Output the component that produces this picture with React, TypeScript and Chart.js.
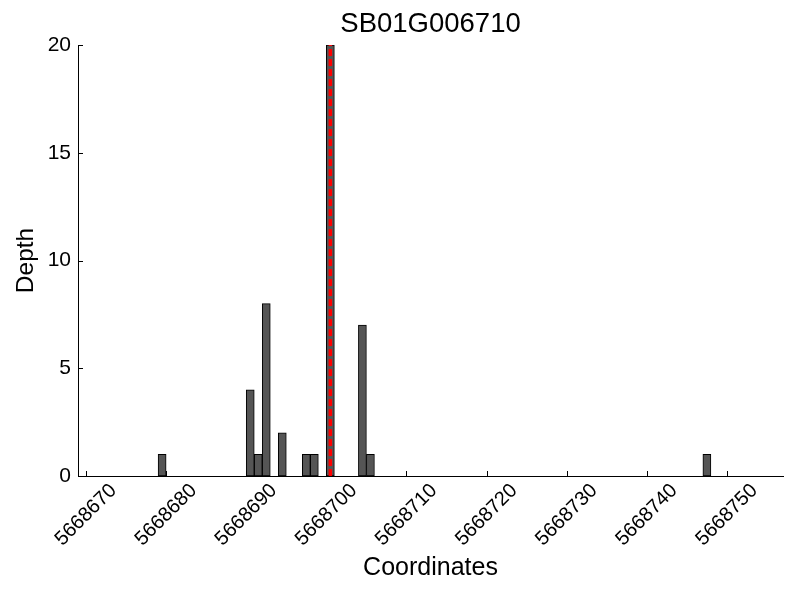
import React, { useEffect, useRef } from "react";
import { Chart, registerables } from "chart.js";

Chart.register(...registerables);

const TITLE = "SB01G006710";
const X_LABEL = "Coordinates";
const Y_LABEL = "Depth";

// left edge coordinate of each 1-bp bin and its depth
const positions = [5668679, 5668690, 5668691, 5668692, 5668694, 5668697, 5668698, 5668700, 5668704, 5668705, 5668747];
const depths = [1, 4, 1, 8, 2, 1, 1, 20, 7, 1, 1];

const markerPosition = 5668700.5;
const xMin = 5668669;
const xMax = 5668757;
const xTickValues = [5668670, 5668680, 5668690, 5668700, 5668710, 5668720, 5668730, 5668740, 5668750];
const yTickValues = [0, 5, 10, 15, 20];

const FONT = "'Liberation Sans', Arial, sans-serif";

const customPlugin = {
  id: "customDecor",
  afterDraw(chart: any) {
    const ctx = chart.ctx;
    const xs = chart.scales.x;
    const ys = chart.scales.y;
    const area = chart.chartArea;
    ctx.save();
    // inward tick marks
    ctx.strokeStyle = "#000";
    ctx.lineWidth = 1;
    ctx.beginPath();
    for (const v of xTickValues) {
      const px = Math.round(xs.getPixelForValue(v)) + 0.5;
      ctx.moveTo(px, area.bottom);
      ctx.lineTo(px, area.bottom - 5);
    }
    for (const v of yTickValues) {
      const py = Math.round(ys.getPixelForValue(v)) + 0.5;
      ctx.moveTo(area.left, py);
      ctx.lineTo(area.left + 5, py);
    }
    ctx.stroke();
    // x tick labels, rotated 45 and centred on the tick
    ctx.fillStyle = "#000";
    ctx.font = `20px ${FONT}`;
    ctx.textAlign = "center";
    ctx.textBaseline = "middle";
    for (const v of xTickValues) {
      const px = xs.getPixelForValue(v);
      ctx.save();
      ctx.translate(px, area.bottom + 39);
      ctx.rotate(-Math.PI / 4);
      ctx.fillText(String(v), 0, 0);
      ctx.restore();
    }
    // title centred over the plot area
    ctx.font = `27.5px ${FONT}`;
    ctx.textAlign = "center";
    ctx.textBaseline = "middle";
    ctx.fillText(TITLE, (area.left + area.right) / 2, 24);
    ctx.restore();
  },
};

export default function App() {
  const canvasRef = useRef<HTMLCanvasElement | null>(null);

  useEffect(() => {
    const canvas = canvasRef.current;
    if (!canvas) return;
    const barData = positions.map((p, i) => ({ x: p + 0.5, y: depths[i] }));
    const chart = new Chart(canvas, {
      type: "bar",
      data: {
        datasets: [
          {
            type: "bar",
            data: barData as any,
            backgroundColor: "#555555",
            borderColor: "#000000",
            borderWidth: 1,
            borderSkipped: false,
            barPercentage: 1,
            categoryPercentage: 1,
            order: 2,
          },
          {
            type: "line",
            data: [
              { x: markerPosition, y: yTickValues[0] },
              { x: markerPosition, y: yTickValues[yTickValues.length - 1] },
            ] as any,
            borderColor: "#ff0000",
            borderWidth: 3.5,
            borderDash: [7, 3],
            borderCapStyle: "butt",
            pointRadius: 0,
            fill: false,
            order: 1,
          } as any,
        ],
      },
      options: {
        animation: false,
        responsive: false,
        maintainAspectRatio: false,
        layout: { padding: { top: 45, right: 17, left: 0, bottom: 0 } },
        plugins: {
          legend: { display: false },
          tooltip: { enabled: false },
          title: { display: false },
        },
        scales: {
          x: {
            type: "linear",
            min: xMin,
            max: xMax,
            offset: false,
            grid: { display: false, drawTicks: false },
            border: { display: true, color: "#000", width: 1 },
            ticks: { display: false },
            afterBuildTicks: (scale: any) => {
              scale.ticks = xTickValues.map((v) => ({ value: v }));
            },
            afterFit: (scale: any) => {
              scale.height = 124;
            },
            title: {
              display: true,
              text: X_LABEL,
              color: "#000",
              font: { family: FONT, size: 25 },
              padding: { top: 0, bottom: 17 },
            },
          },
          y: {
            type: "linear",
            min: 0,
            max: 20,
            grid: { display: false, drawTicks: false },
            border: { display: true, color: "#000", width: 1 },
            afterBuildTicks: (scale: any) => {
              scale.ticks = yTickValues.map((v) => ({ value: v }));
            },
            ticks: {
              color: "#000",
              font: { family: FONT, size: 21 },
              padding: 7,
              callback: (v: any) => String(v),
            },
            afterFit: (scale: any) => {
              scale.width = 78;
            },
            title: {
              display: true,
              text: Y_LABEL,
              color: "#000",
              font: { family: FONT, size: 24.5 },
              padding: { top: 12, bottom: 0 },
            },
          },
        },
      } as any,
      plugins: [customPlugin],
    });
    return () => chart.destroy();
  }, []);

  return (
    <div style={{ position: "fixed", left: 0, top: 0, width: 800, height: 600, background: "#fff" }}>
      <canvas ref={canvasRef} width={800} height={600} style={{ width: 800, height: 600 }} />
    </div>
  );
}
